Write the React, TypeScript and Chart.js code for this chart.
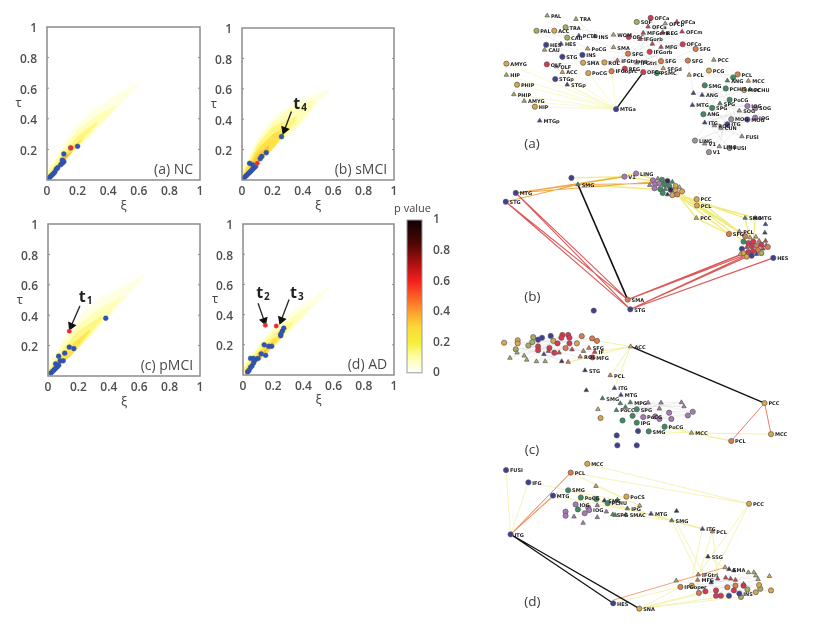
import React, { useEffect, useRef } from "react";
import { Chart, registerables } from "chart.js";
Chart.register(...registerables);

type P = [number, number];
type Band = { color: string; upper: P[]; lower: P[] };
type Node = [string, number, number, string, string];
type Text = { x: number; y: number; text: string; font: string; color?: string; align?: CanvasTextAlign };

const tickValues = [0, 0.2, 0.4, 0.6, 0.8, 1];

const pointsNC: P[] = [[0.01,0.01],[0.02,0.02],[0.03,0.03],[0.04,0.04],[0.05,0.05],[0.06,0.07],[0.07,0.08],[0.09,0.1],[0.1,0.11],[0.11,0.12],[0.1,0.13],[0.11,0.17],[0.155,0.21],[0.2,0.22]];
const pointsSMCI: P[] = [[0.01,0.01],[0.02,0.02],[0.03,0.03],[0.04,0.04],[0.05,0.05],[0.06,0.06],[0.07,0.07],[0.08,0.08],[0.09,0.09],[0.05,0.11],[0.07,0.1],[0.12,0.14],[0.13,0.155],[0.16,0.18],[0.26,0.285]];
const pointsPMCI: P[] = [[0.02,0.02],[0.03,0.03],[0.04,0.04],[0.05,0.05],[0.06,0.06],[0.07,0.07],[0.05,0.08],[0.08,0.1],[0.1,0.1],[0.07,0.13],[0.11,0.15],[0.14,0.19],[0.17,0.18],[0.38,0.38]];
const pointsAD: P[] = [[0.03,0.02],[0.04,0.03],[0.05,0.05],[0.06,0.06],[0.07,0.08],[0.08,0.1],[0.05,0.11],[0.07,0.11],[0.1,0.11],[0.12,0.14],[0.15,0.13],[0.14,0.2],[0.17,0.19],[0.19,0.19],[0.25,0.26],[0.26,0.29],[0.25,0.27],[0.27,0.31]];
const redPointsNC: P[] = [[0.155,0.21]];
const redPointsSMCI: P[] = [[0.1,0.11]];
const redPointsPMCI: P[] = [[0.14,0.295]];
const redPointsAD: P[] = [[0.148,0.33],[0.22,0.325]];

const bandsNC: Band[] = [
  { color: "rgba(255,140,40,0.6)", upper: [[0.07,0.09],[0.12,0.155],[0.17,0.19]], lower: [[0.07,0.075],[0.17,0.19]] },
  { color: "rgba(255,215,50,0.65)", upper: [[0,0.015],[0.08,0.115],[0.16,0.22],[0.24,0.27]], lower: [[0,0],[0.24,0.27]] },
  { color: "rgba(255,240,90,0.6)", upper: [[0,0.03],[0.1,0.17],[0.2,0.29],[0.33,0.38]], lower: [[0,0],[0.33,0.37]] },
  { color: "rgba(255,255,140,0.5)", upper: [[0,0.05],[0.1,0.2],[0.2,0.33],[0.35,0.44],[0.48,0.5]], lower: [[0,0],[0.48,0.5]] },
  { color: "rgba(255,255,205,0.55)", upper: [[0,0.06],[0.1,0.22],[0.17,0.33],[0.3,0.46],[0.45,0.56],[0.63,0.65]], lower: [[0,0],[0.63,0.65]] },
];
const bandsSMCI: Band[] = [
  { color: "rgba(255,180,40,0.6)", upper: [[0.03,0.05],[0.1,0.17],[0.18,0.23]], lower: [[0.03,0.03],[0.18,0.2]] },
  { color: "rgba(255,215,50,0.7)", upper: [[0,0.025],[0.1,0.2],[0.2,0.3],[0.3,0.35]], lower: [[0,0],[0.2,0.2],[0.3,0.33]] },
  { color: "rgba(255,240,90,0.6)", upper: [[0,0.035],[0.1,0.23],[0.2,0.35],[0.36,0.42]], lower: [[0,0],[0.2,0.2],[0.36,0.39]] },
  { color: "rgba(255,255,140,0.5)", upper: [[0,0.05],[0.1,0.25],[0.2,0.38],[0.32,0.47],[0.48,0.53]], lower: [[0,0],[0.2,0.2],[0.38,0.37],[0.48,0.51]] },
  { color: "rgba(255,255,205,0.55)", upper: [[0,0.06],[0.1,0.27],[0.2,0.41],[0.35,0.52],[0.58,0.6]], lower: [[0,0],[0.2,0.2],[0.38,0.36],[0.58,0.59]] },
];
const bandsPMCI: Band[] = [
  { color: "rgba(255,140,40,0.6)", upper: [[0.07,0.08],[0.12,0.12],[0.17,0.16]], lower: [[0.07,0.07],[0.17,0.16]] },
  { color: "rgba(255,215,50,0.6)", upper: [[0,0.02],[0.1,0.15],[0.18,0.23],[0.28,0.31]], lower: [[0,0],[0.15,0.13],[0.28,0.3]] },
  { color: "rgba(255,240,90,0.55)", upper: [[0,0.035],[0.1,0.18],[0.2,0.3],[0.36,0.4]], lower: [[0,0],[0.2,0.18],[0.36,0.38]] },
  { color: "rgba(255,255,140,0.5)", upper: [[0,0.05],[0.1,0.22],[0.2,0.34],[0.35,0.45],[0.5,0.53]], lower: [[0,0],[0.25,0.23],[0.5,0.52]] },
  { color: "rgba(255,255,205,0.55)", upper: [[0,0.07],[0.12,0.27],[0.2,0.39],[0.35,0.52],[0.64,0.67]], lower: [[0,0],[0.3,0.28],[0.64,0.66]] },
];
const bandsAD: Band[] = [
  { color: "rgba(255,150,40,0.6)", upper: [[0.08,0.09],[0.13,0.15],[0.2,0.22]], lower: [[0.08,0.08],[0.2,0.21]] },
  { color: "rgba(255,215,50,0.7)", upper: [[0.01,0.03],[0.1,0.15],[0.2,0.24],[0.27,0.28]], lower: [[0.01,0.01],[0.15,0.13],[0.27,0.27]] },
  { color: "rgba(255,240,90,0.55)", upper: [[0,0.04],[0.1,0.17],[0.2,0.27],[0.33,0.36]], lower: [[0,0.01],[0.2,0.18],[0.33,0.34]] },
  { color: "rgba(255,255,140,0.5)", upper: [[0,0.05],[0.1,0.19],[0.2,0.3],[0.35,0.4],[0.45,0.46]], lower: [[0,0.01],[0.25,0.23],[0.45,0.45]] },
  { color: "rgba(255,255,205,0.55)", upper: [[0,0.07],[0.1,0.2],[0.2,0.32],[0.35,0.44],[0.58,0.59]], lower: [[0,0.01],[0.3,0.27],[0.58,0.58]] },
];

const arrowT4: P[] = [[0.325,0.45],[0.28,0.33]];
const arrowT1: P[] = [[0.21,0.46],[0.153,0.33]];
const arrowT2: P[] = [[0.1,0.475],[0.14,0.36]];
const arrowT3: P[] = [[0.305,0.5],[0.254,0.365]];

const colorStops: [number, string][] = [[0,"#ffffff"],[0.1,"#ffffa8"],[0.2,"#f4ee38"],[0.3,"#fdd835"],[0.4,"#ff9d2c"],[0.6,"#f51f1f"],[0.72,"#a81010"],[0.85,"#4a0606"],[1,"#0e0202"]];

const palette: Record<string,string> = { ol:"#a9ad62", or:"#dba64a", bl:"#3f3f98", rd:"#d9374f", gr:"#3d8c60", pu:"#a878b8", gy:"#a09298", og:"#e07a4a", dk:"#2d2d5c" };

const nodesA: Node[] = [
["PAL",193,35,"ol","t"],["TRA",282,46,"ol","t"],["PAL",160,83,"ol","c"],["ACC",215,83,"or","c"],["TRA",250,72,"ol","c"],["CAU",255,105,"ol","c"],["PCTO",291,99,"bl","t"],["INS",340,101,"bl","t"],
["HES",190,128,"bl","c"],["HES",236,125,"bl","t"],["CAU",185,144,"ol","t"],["STG",240,166,"bl","c"],["INS",302,160,"bl","c"],["PoCG",318,140,"or","t"],["SMA",304,185,"or","c"],["ROL",370,184,"or","c"],
["SMA",398,136,"or","t"],["IFGtriang",410,178,"og","t"],["OLF",192,190,"rd","c"],["OLF",222,197,"og","t"],["ACC",240,215,"or","t"],["AMYG",67,188,"or","c"],["HIP",67,224,"ol","t"],["PHIP",100,255,"or","c"],
["PHIP",90,286,"ol","t"],["AMYG",122,307,"ol","t"],["HIP",155,325,"or","c"],["MTGp",170,370,"bl","t"],["STGp",218,237,"bl","c"],["STGp",255,255,"bl","t"],["PoCG",320,218,"or","c"],["IFGoprc",392,212,"og","c"],["REG",433,204,"rd","c"],
["OFCa",513,42,"rd","c"],["OFCp",558,60,"ol","t"],["OFCa",594,55,"rd","t"],["SOF",470,55,"ol","c"],["OFCa",505,70,"rd","t"],["WOM",398,96,"or","t"],["OFC",445,103,"rd","c"],["MFGorb",490,90,"rd","t"],["REG",550,88,"rd","t"],
["OFCm",610,86,"rd","t"],["IFGorb",480,110,"rd","t"],["",518,125,"rd","t"],["MFG",545,135,"rd","t"],["OFCo",612,126,"rd","c"],["SFG",652,141,"og","c"],["SFG",443,156,"og","c"],["IFGorb",510,150,"rd","c"],["SFG",545,180,"og","c"],
["IFGtri",470,185,"og","t"],["OFCo",490,215,"rd","c"],["PSMC",532,218,"gr","c"],["SFGd",552,203,"or","t"],["SFG",628,178,"og","c"],["PCC",708,176,"ol","t"],["PCG",693,210,"or","c"],["PCL",632,224,"or","t"],["PCL",782,222,"og","c"],["MCC",815,243,"or","t"],
["",768,232,"gr","c"],["ANG",750,242,"gr","t"],["SMG",680,257,"gr","c"],["PCHIS",745,267,"gr","c"],["PCHU",820,270,"gr","t"],["MCC",802,272,"or","c"],["",645,282,"bl","t"],["ANG",672,288,"bl","t"],["PoCG",757,303,"gr","c"],["SPG",727,315,"gr","t"],["SPG",703,329,"gr","c"],
["MTG",642,320,"bl","t"],["ANG",676,349,"gr","c"],["IOG",812,323,"pu","c"],["SOG",836,330,"pu","c"],["SOG",787,338,"gy","t"],["MOG",762,365,"gy","c"],["MOG",812,366,"bl","c"],["IOG",836,360,"pu","c"],["ITG",680,376,"bl","t"],["ITG",750,381,"bl","c"],["ROC",710,385,"gy","t"],["CUN",730,393,"gy","t"],
["FUSI",795,420,"gy","t"],["LING",650,433,"gy","c"],["V1",680,443,"gy","t"],["LING",725,452,"gy","t"],["FUSI",757,457,"gy","c"],["V1",693,470,"gy","c"],["MTGa",406,333,"bl","c"],
];
const blackEdgesA = [406,333,490,215];
const yellowEdgesA = [406,333,67,188, 406,333,67,224, 406,333,100,255, 406,333,90,286, 406,333,122,307, 406,333,155,325, 406,333,218,237, 406,333,255,255, 406,333,320,218, 406,333,240,215, 406,333,392,212];
const paleEdgesA = [193,35,250,72, 160,83,255,105, 215,83,291,99, 282,46,340,101, 190,128,302,160, 236,125,240,166, 185,144,304,185, 240,166,370,184, 291,99,398,136, 340,101,445,103, 318,140,443,156, 192,190,410,178, 160,83,302,160, 215,83,318,140, 250,72,398,96, 193,35,302,160,
398,96,612,126, 445,103,652,141, 470,55,610,86, 513,42,545,135, 594,55,510,150, 392,212,628,178, 433,204,612,126, 490,215,652,141, 398,136,552,203, 443,156,628,178, 470,185,612,126, 505,70,652,141, 558,60,480,110, 410,178,594,55, 370,184,545,180, 398,96,552,203, 445,103,545,180, 490,90,532,218, 610,86,443,156, 513,42,470,185, 320,218,552,203, 304,185,510,150, 370,184,612,126,
632,224,782,222, 680,257,802,272, 645,282,836,330, 642,320,812,323, 676,349,836,360, 680,376,787,338, 745,267,762,365, 703,329,750,381, 757,303,795,420, 650,433,727,315, 693,470,762,365, 725,452,812,366, 628,178,645,282, 652,141,693,210, 708,176,782,222, 693,210,815,243, 680,257,757,303, 642,320,802,272, 650,433,836,360, 676,349,795,420, 680,376,836,330, 693,470,812,323, 632,224,768,232, 680,257,787,338, 703,329,812,323, 725,452,757,303, 645,282,820,270, 672,288,750,381, 642,320,757,457, 650,433,812,366, 680,376,795,420, 727,315,836,360, 745,267,836,330, 768,232,676,349];

const nodesB: Node[] = [
["LING",468,28,"pu","c"],["V1",432,38,"pu","c"],["",268,42,"bl","c"],["SMG",288,63,"gr","t"],["MTG",96,90,"bl","c"],["STG",65,118,"bl","c"],
["",520,50,"pu","c"],["",535,45,"pu","t"],["",548,48,"gr","c"],["",565,52,"dk","c"],["",580,55,"gr","t"],["",510,65,"pu","t"],["",527,62,"pu","c"],["",540,60,"pu","c"],["",555,63,"gr","c"],["",570,68,"gr","c"],["",590,68,"or","c"],["",602,72,"or","t"],["",525,75,"pu","c"],["",543,78,"gr","c"],["",558,78,"gr","t"],["",575,80,"dk","c"],["",590,82,"or","c"],["",610,85,"or","c"],["",550,90,"gr","c"],["",565,95,"dk","t"],["",580,97,"or","c"],["",595,95,"og","c"],
["PCC",655,110,"or","c"],["PCL",656,130,"or","c"],["PCC",654,170,"or","t"],["SMG",805,170,"gr","t"],["MTG",836,170,"bl","t"],["",868,190,"bl","t"],["",866,217,"bl","t"],["SFG",755,221,"og","c"],["PCL",787,213,"og","t"],["",805,228,"og","c"],
["",820,232,"or","t"],["",838,230,"or","t"],["",800,245,"gr","c"],["",815,250,"rd","c"],["",830,245,"rd","c"],["",848,243,"og","t"],["",868,243,"rd","t"],["",795,268,"bl","c"],["",810,263,"rd","t"],["",825,260,"rd","c"],["",840,258,"og","c"],["",855,255,"rd","c"],["",870,258,"rd","t"],["",800,282,"or","c"],["",815,278,"rd","c"],["",830,275,"rd","c"],["",845,272,"og","c"],["",860,268,"rd","t"],["",810,293,"or","c"],["",825,290,"bl","c"],["",840,285,"bl","t"],["",855,282,"ol","c"],["",790,285,"or","t"],["",875,262,"og","c"],
["HES",892,297,"bl","c"],["SMA",442,430,"og","c"],["STG",450,461,"bl","c"],["",337,465,"bl","c"],
];
const blackEdgesB = [288,63,442,430];
const redEdgesB = [96,90,442,430, 96,90,450,461, 65,118,442,430, 65,118,450,461, 442,430,785,290, 442,430,800,282, 450,461,800,293, 450,461,810,293, 450,461,892,297, 442,430,825,280, 450,461,830,285];
const orangeEdgesB = [96,90,288,63, 96,90,432,38, 288,63,520,60, 96,90,520,55, 65,118,288,63];
const yellowEdgesB = [288,63,468,28, 268,42,432,38, 288,63,432,38, 432,38,540,55, 468,28,560,60, 288,63,550,80, 288,63,590,82, 600,95,805,170, 595,100,836,170, 600,100,755,221, 610,95,787,213, 600,100,654,170, 655,110,805,228, 656,130,805,228, 654,170,755,221, 610,100,805,170, 610,95,800,245, 600,100,787,213, 805,170,820,240, 836,170,830,240];

const nodesC: Node[] = [
["",60,58,"or","c"],["",102,50,"or","c"],["",102,60,"or","c"],["",150,40,"ol","c"],["",165,48,"bl","c"],["",177,42,"bl","c"],["",204,36,"bl","c"],["",240,33,"rd","c"],["",237,42,"rd","c"],["",258,33,"rd","c"],["",262,42,"rd","c"],["",300,37,"og","c"],["",332,44,"og","c"],["",347,52,"og","c"],["",147,56,"ol","c"],["",135,67,"ol","c"],["",212,52,"or","c"],["",285,60,"or","c"],["",96,79,"ol","c"],["",100,90,"ol","t"],["",78,107,"ol","t"],["",122,100,"ol","t"],["",130,113,"ol","t"],["",160,118,"ol","t"],["",187,118,"ol","t"],["",238,118,"dk","t"],["",258,120,"og","t"],["",165,70,"rd","c"],["",165,82,"rd","c"],["",200,75,"rd","c"],["",183,95,"bl","t"],["",197,85,"rd","t"],["",225,60,"rd","c"],["",230,90,"rd","t"],["",262,60,"rd","c"],["",270,80,"rd","t"],["",305,85,"og","t"],["SFG",322,75,"og","t"],["IF",340,88,"rd","t"],["MFG",333,105,"rd","c"],["ROL",295,103,"og","t"],["",215,90,"rd","c"],["",250,75,"og","c"],
["ACC",451,70,"or","t"],["STG",310,147,"dk","t"],["PCL",388,163,"og","t"],["",314,211,"dk","t"],["ITG",401,204,"bl","t"],["MTG",421,226,"bl","t"],["SMG",364,237,"gr","t"],["",419,253,"gr","t"],["MPG",450,250,"gr","t"],["",435,265,"gr","t"],["PoCC",407,275,"gr","t"],["SPG",470,272,"gr","c"],["",457,293,"gr","c"],["IPG",470,315,"gr","c"],["",426,308,"gr","c"],["SMG",507,343,"gr","c"],["",474,342,"bl","c"],["",408,356,"bl","c"],["",410,388,"bl","c"],["",470,388,"bl","c"],["PoCG",556,328,"gr","c"],["MCC",639,348,"or","t"],["PCL",762,374,"og","c"],["MCC",885,352,"or","c"],["PCC",865,252,"or","c"],["",350,272,"or","t"],["",358,300,"or","c"],
["",505,251,"pu","t"],["",545,251,"pu","t"],["",608,250,"pu","t"],["",540,270,"pu","t"],["",616,263,"pu","t"],["",570,283,"pu","c"],["",643,280,"pu","c"],["",628,292,"pu","c"],["",577,303,"pu","c"],["",540,303,"pu","c"],["",527,295,"pu","c"],["PoCG",490,297,"pu","c"],
];
const blackEdgesC = [451,70,865,252];
const redEdgesC = [865,252,762,374, 865,252,885,352];
const yellowEdgesC = [556,328,639,348, 639,348,762,374, 639,348,885,352, 507,343,639,348, 556,328,762,374, 347,52,451,70, 340,88,451,70, 270,118,451,70, 388,163,451,70, 401,204,451,70, 258,120,340,100];
const paleEdgesC = [60,58,347,52, 78,107,300,37, 96,79,332,44, 102,60,295,103, 122,100,262,42, 150,40,270,80, 130,113,240,33, 160,118,300,37, 135,67,340,88, 187,118,285,60, 78,107,204,36, 60,58,258,120, 100,90,322,75, 147,56,305,85, 102,50,238,118, 135,67,258,33, 160,118,347,52, 96,79,270,80,
505,251,643,280, 419,253,628,292, 450,250,608,250, 407,275,577,303, 435,265,616,263, 457,293,545,251, 490,297,628,292, 407,275,643,280, 419,253,616,263, 470,272,608,250, 457,293,577,303];

const nodesD: Node[] = [
["FUSI",66,33,"bl","c"],["IFG",135,72,"bl","c"],["MTG",211,114,"bl","c"],["ITG",80,237,"bl","c"],["PCL",266,41,"og","c"],["MCC",317,13,"or","c"],["PCC",817,140,"or","c"],["",344,84,"or","t"],["SMG",258,97,"gr","c"],["PoCG",297,120,"gr","c"],["",345,125,"gr","c"],["SMG",370,130,"dk","t"],["PCHU",380,138,"gr","c"],["",410,128,"gr","t"],["PoCS",438,117,"or","c"],["",479,146,"or","t"],["IPG",441,155,"gr","t"],["MTG",514,172,"bl","t"],["",593,163,"dk","t"],["SMG",578,193,"gr","t"],["ITG",673,220,"bl","t"],["PCL",704,228,"og","t"],
["IOG",281,142,"pu","c"],["",250,165,"pu","c"],["",250,178,"pu","c"],["",288,158,"gr","c"],["",320,152,"pu","c"],["IOG",323,160,"pu","c"],["",309,170,"pu","c"],["",276,181,"pu","t"],["",304,201,"pu","t"],["",348,145,"pu","t"],["",376,165,"pu","t"],["",348,183,"pu","t"],["SPG",396,174,"gr","t"],["",403,176,"gr","t"],["SMAC",436,175,"gr","t"],["SSG",690,308,"dk","t"],
["",743,342,"or","t"],["SMA",755,348,"dk","t"],["",770,352,"dk","t"],["",815,358,"ol","t"],["",832,358,"ol","t"],["",880,370,"or","t"],["",838,368,"ol","t"],["",845,380,"ol","t"],["",885,415,"or","c"],["",838,421,"or","c"],["",852,410,"ol","c"],["",848,398,"or","c"],["",812,412,"ol","c"],["",792,436,"ol","c"],["INS",787,425,"bl","c"],["",755,432,"bl","c"],["",730,432,"rd","c"],["",715,432,"rd","c"],["",715,415,"rd","c"],["",750,405,"og","c"],["",775,400,"og","c"],["",800,400,"rd","c"],["",775,382,"rd","t"],["",720,378,"rd","t"],["",760,378,"rd","t"],["",745,375,"rd","t"],["",700,390,"dk","t"],["IFGtri",660,365,"og","t"],["MFG",658,382,"og","t"],["",592,384,"ol","t"],["IFGoper",605,404,"og","c"],["",662,423,"og","c"],["",682,418,"rd","c"],["",640,400,"or","c"],["",770,415,"rd","c"],["",800,395,"rd","t"],
["HES",397,456,"bl","c"],["SNA",478,473,"or","c"],
];
const blackEdgesD = [80,237,397,456, 80,237,478,473, 85,240,470,468];
const orangeEdgesD = [80,237,266,41, 80,237,211,114, 86,232,266,41, 80,237,225,105, 397,446,743,342];
const yellowEdgesD = [80,237,66,33, 80,237,135,72, 266,41,817,140, 317,13,817,140, 135,72,410,128, 211,114,445,160, 258,97,441,155, 297,120,578,193, 345,125,673,220, 441,155,673,220, 514,172,704,228, 578,193,673,220, 400,170,578,193, 578,193,660,365, 593,200,680,370, 673,220,640,380, 704,228,660,370, 817,140,700,380, 817,140,660,365, 690,308,745,345, 704,228,720,375, 478,473,605,404, 478,473,662,423, 478,473,715,415, 478,473,792,436, 478,473,755,432, 397,456,605,404, 266,41,479,146, 344,84,479,146];
const paleEdgesD = [605,404,848,398, 662,423,885,415, 592,384,838,421, 658,382,832,358, 743,342,792,436, 682,418,845,380, 720,378,852,410, 700,390,880,370, 715,432,815,358, 640,400,838,368, 730,432,845,380, 660,365,812,412];

const captionA = "(a)", captionB = "(b)", captionC = "(c)", captionD = "(d)";

function textPlugin(items: Text[]) {
  return {
    id: "texts",
    afterDatasetsDraw(chart: any) {
      const { ctx, scales } = chart;
      ctx.save();
      ctx.textBaseline = "middle";
      for (const t of items) {
        ctx.font = t.font;
        ctx.fillStyle = t.color || "#444";
        ctx.textAlign = t.align || "left";
        ctx.fillText(t.text, scales.x.getPixelForValue(t.x), scales.y.getPixelForValue(t.y));
      }
      ctx.restore();
    },
  };
}

const boxPlugin = {
  id: "box",
  afterDraw(chart: any) {
    const { ctx, chartArea: a, scales } = chart;
    ctx.save();
    ctx.strokeStyle = "#8c8c8c";
    ctx.lineWidth = 1.5;
    ctx.strokeRect(a.left, a.top, a.right - a.left, a.bottom - a.top);
    ctx.lineWidth = 1;
    for (const v of [0.2, 0.4, 0.6, 0.8]) {
      const py = scales.y.getPixelForValue(v);
      ctx.beginPath(); ctx.moveTo(a.right, py); ctx.lineTo(a.right - 2, py); ctx.moveTo(a.left, py); ctx.lineTo(a.left + 2, py); ctx.stroke();
    }
    ctx.restore();
  },
};

function xy(list: P[]) { return list.map(([x, y]) => ({ x, y })); }

type PanelDef = { left: number; top: number; size: number; points: P[]; red: P[]; bands: Band[]; arrows: P[][]; label: string; marks: [string, string, number, number][] };

function makePanel(canvas: HTMLCanvasElement, p: PanelDef) {
  const datasets: any[] = [];
  datasets.push({ data: xy(p.red), pointRadius: 2.2, pointBackgroundColor: "#ee2a2a", pointBorderColor: "#e05050", pointBorderWidth: 0.5, showLine: false });
  for (const arrow of p.arrows) {
    const dx = arrow[1][0] - arrow[0][0], dy = arrow[1][1] - arrow[0][1];
    datasets.push({ data: xy(arrow), showLine: true, borderColor: "#222", borderWidth: 1.3, pointRadius: [0, 4], pointStyle: "triangle", pointRotation: (Math.atan2(dx, dy) * 180) / Math.PI, pointBackgroundColor: "#111", pointBorderColor: "#111" });
  }
  datasets.push({ data: xy(p.points), pointRadius: 2.4, pointBackgroundColor: "#2a55c0", pointBorderColor: "#3a4a80", pointBorderWidth: 0.5, showLine: false });
  for (const b of p.bands) {
    datasets.push({ data: xy(b.upper), showLine: true, borderWidth: 0, pointRadius: 0, fill: "+1", backgroundColor: b.color });
    datasets.push({ data: xy(b.lower), showLine: true, borderWidth: 0, pointRadius: 0, fill: false });
  }
  const items: Text[] = [
    { x: 0.955, y: 0.065, text: p.label, font: "14px 'Open Sans'", color: "#4a4a4a", align: "right" },
    { x: 0.5, y: -0.17, text: "ξ", font: "13px 'Open Sans'", color: "#444", align: "center" },
    { x: -0.185, y: 0.5, text: "τ", font: "13px 'Open Sans'", color: "#444", align: "center" },
  ];
  for (const [t, sub, x, y] of p.marks) {
    items.push({ x, y, text: t, font: "bold 16px 'Open Sans'", color: "#222", align: "center" });
    items.push({ x: x + 0.048, y: y - 0.025, text: sub, font: "bold 10px 'Open Sans'", color: "#222", align: "center" });
  }
  return new Chart(canvas, {
    type: "scatter",
    data: { datasets },
    plugins: [textPlugin(items), boxPlugin],
    options: {
      responsive: false, animation: false,
      layout: { padding: { top: 10, right: 12 } },
      plugins: { legend: { display: false }, tooltip: { enabled: false } },
      scales: {
        x: { type: "linear", min: 0, max: 1, grid: { display: false }, border: { display: false },
          afterBuildTicks: (s: any) => { s.ticks = tickValues.map((value) => ({ value })); },
          afterFit: (s: any) => { s.height = 40; },
          ticks: { padding: -4, color: "#4f4f4f", font: { family: "'Open Sans'", size: 12, weight: "600" }, autoSkip: false, maxRotation: 0, callback: (v: any) => String(v) } },
        y: { type: "linear", min: 0, max: 1, grid: { display: false }, border: { display: false },
          afterBuildTicks: (s: any) => { s.ticks = tickValues.map((value) => ({ value })); },
          afterFit: (s: any) => { s.width = 40; },
          ticks: { padding: 2, labelOffset: 2, color: "#4f4f4f", font: { family: "'Open Sans'", size: 12, weight: "600" }, autoSkip: false, callback: (v: any) => (v === 0 ? "" : String(v)) } },
      },
    } as any,
  });
}

function segs(flat: number[]) {
  const out: any[] = [];
  for (let i = 0; i < flat.length; i += 4) {
    out.push({ x: flat[i], y: flat[i + 1] }, { x: flat[i + 2], y: flat[i + 3] }, { x: NaN, y: NaN });
  }
  return out;
}

type EdgeGroup = { flat: number[]; color: string; width: number };
type NetDef = { left: number; top: number; w: number; h: number; nodes: Node[]; edges: EdgeGroup[]; caption: string; capX: number; capY: number };

function makeNet(canvas: HTMLCanvasElement, n: NetDef) {
  const datasets: any[] = [{
    data: n.nodes.map((d) => ({ x: d[1], y: d[2] })),
    showLine: false,
    pointRadius: 2.6,
    pointStyle: n.nodes.map((d) => (d[4] === "t" ? "triangle" : "circle")),
    pointBackgroundColor: n.nodes.map((d) => palette[d[3]]),
    pointBorderColor: "#5a5a5a",
    pointBorderWidth: 0.7,
  }];
  for (const e of n.edges) {
    datasets.push({ data: segs(e.flat), showLine: true, spanGaps: false, borderColor: e.color, borderWidth: e.width, pointRadius: 0 });
  }
  const items: Text[] = n.nodes.filter((d) => d[0]).map((d) => ({ x: d[1] + 12, y: d[2] + 3, text: d[0], font: "bold 5px 'DejaVu Sans'", color: "#222" }));
  items.push({ x: n.capX, y: n.capY, text: n.caption, font: "13.5px 'Open Sans'", color: "#3a3a3a" });
  return new Chart(canvas, {
    type: "scatter",
    data: { datasets },
    plugins: [textPlugin(items)],
    options: {
      responsive: false, animation: false, clip: false,
      layout: { padding: 0 },
      plugins: { legend: { display: false }, tooltip: { enabled: false } },
      scales: {
        x: { display: false, min: 0, max: n.w * 3 },
        y: { display: false, min: 0, max: n.h * 3, reverse: true },
      },
    } as any,
  });
}

const panels: PanelDef[] = [
  { left: 47, top: 27, size: 153, points: pointsNC, red: redPointsNC, bands: bandsNC, arrows: [], label: "(a) NC", marks: [] },
  { left: 242, top: 28, size: 152, points: pointsSMCI, red: redPointsSMCI, bands: bandsSMCI, arrows: [arrowT4], label: "(b) sMCI", marks: [["t", "4", 0.36, 0.5]] },
  { left: 48, top: 224, size: 152, points: pointsPMCI, red: redPointsPMCI, bands: bandsPMCI, arrows: [arrowT1], label: "(c) pMCI", marks: [["t", "1", 0.225, 0.52]] },
  { left: 243, top: 224, size: 151, points: pointsAD, red: redPointsAD, bands: bandsAD, arrows: [arrowT2, arrowT3], label: "(d) AD", marks: [["t", "2", 0.11, 0.54], ["t", "3", 0.335, 0.54]] },
];

const nets: NetDef[] = [
  { left: 480, top: 0, w: 320, h: 160, nodes: nodesA, caption: captionA, capX: 122, capY: 445, edges: [
    { flat: blackEdgesA, color: "#111", width: 1.4 }, { flat: yellowEdgesA, color: "rgba(245,245,170,0.9)", width: 0.7 }, { flat: paleEdgesA, color: "rgba(205,205,205,0.6)", width: 0.5 } ] },
  { left: 480, top: 160, w: 320, h: 160, nodes: nodesB, caption: captionB, capX: 122, capY: 423, edges: [
    { flat: blackEdgesB, color: "#111", width: 1.6 }, { flat: redEdgesB, color: "rgba(215,60,60,0.85)", width: 1.1 }, { flat: orangeEdgesB, color: "rgba(240,160,50,0.9)", width: 1.1 }, { flat: yellowEdgesB, color: "rgba(240,235,120,0.95)", width: 1.4 } ] },
  { left: 480, top: 320, w: 320, h: 140, nodes: nodesC, caption: captionC, capX: 124, capY: 402, edges: [
    { flat: blackEdgesC, color: "#111", width: 1.4 }, { flat: redEdgesC, color: "rgba(230,110,90,0.9)", width: 1 }, { flat: yellowEdgesC, color: "rgba(240,240,150,0.95)", width: 0.9 }, { flat: paleEdgesC, color: "rgba(205,205,205,0.6)", width: 0.5 } ] },
  { left: 480, top: 455, w: 320, h: 170, nodes: nodesD, caption: captionD, capX: 122, capY: 453, edges: [
    { flat: blackEdgesD, color: "#111", width: 1.2 }, { flat: orangeEdgesD, color: "rgba(240,140,90,0.9)", width: 0.9 }, { flat: yellowEdgesD, color: "rgba(240,235,150,0.95)", width: 0.7 }, { flat: paleEdgesD, color: "rgba(205,205,205,0.6)", width: 0.5 } ] },
];

export default function App() {
  const panelRefs = useRef<(HTMLCanvasElement | null)[]>([]);
  const netRefs = useRef<(HTMLCanvasElement | null)[]>([]);
  const barRef = useRef<HTMLCanvasElement | null>(null);
  useEffect(() => {
    const charts: Chart[] = [];
    panels.forEach((p, i) => charts.push(makePanel(panelRefs.current[i]!, p)));
    nets.forEach((n, i) => charts.push(makeNet(netRefs.current[i]!, n)));
    charts.push(new Chart(barRef.current!, {
      type: "bar",
      data: { labels: ["p"], datasets: [{ data: [1], barPercentage: 1, categoryPercentage: 1,
        backgroundColor: (c: any) => {
          const a = c.chart.chartArea;
          if (!a) return "#fff";
          const g = c.chart.ctx.createLinearGradient(0, a.bottom, 0, a.top);
          colorStops.forEach(([s, col]) => g.addColorStop(s, col));
          return g;
        } }] },
      plugins: [{
        id: "frame",
        afterDraw(chart: any) {
          const { ctx, chartArea: a } = chart;
          ctx.save();
          ctx.strokeStyle = "#999"; ctx.lineWidth = 1;
          ctx.strokeRect(a.left, a.top, a.right - a.left, a.bottom - a.top);
          ctx.font = "11px 'Open Sans'"; ctx.fillStyle = "#444"; ctx.textAlign = "center";
          ctx.fillText("p value", (a.left + a.right) / 2 - 2, a.top - 8);
          ctx.restore();
        },
      }],
      options: {
        responsive: false, animation: false,
        layout: { padding: { top: 20, bottom: 8, left: 20, right: 0 } },
        plugins: { legend: { display: false }, tooltip: { enabled: false } },
        scales: {
          x: { display: false },
          y: { position: "right", min: 0, max: 1, grid: { display: false }, border: { display: false },
            afterBuildTicks: (s: any) => { s.ticks = tickValues.map((value) => ({ value })); },
            afterFit: (s: any) => { s.width = 35; },
            ticks: { padding: 3, color: "#4f4f4f", font: { family: "'Open Sans'", size: 12, weight: "600" }, callback: (v: any) => String(v) } },
        },
      } as any,
    }));
    return () => charts.forEach((c) => c.destroy());
  }, []);
  const blur = "blur(0.7px)";
  return (
    <div style={{ position: "absolute", left: 0, top: 0, width: 836, height: 637, background: "#fff", overflow: "hidden" }}>
      {panels.map((p, i) => (
        <canvas key={i} ref={(el) => { panelRefs.current[i] = el; }} width={p.size + 52} height={p.size + 50}
          style={{ position: "absolute", left: p.left - 40, top: p.top - 10, filter: blur, width: p.size + 52, height: p.size + 50 }} />
      ))}
      {nets.map((n, i) => (
        <canvas key={i} ref={(el) => { netRefs.current[i] = el; }} width={n.w} height={n.h}
          style={{ position: "absolute", left: n.left, top: n.top, filter: blur, width: n.w, height: n.h }} />
      ))}
      <canvas ref={barRef} width={70} height={183} style={{ position: "absolute", left: 387, top: 200, filter: blur, width: 70, height: 183 }} />
    </div>
  );
}
